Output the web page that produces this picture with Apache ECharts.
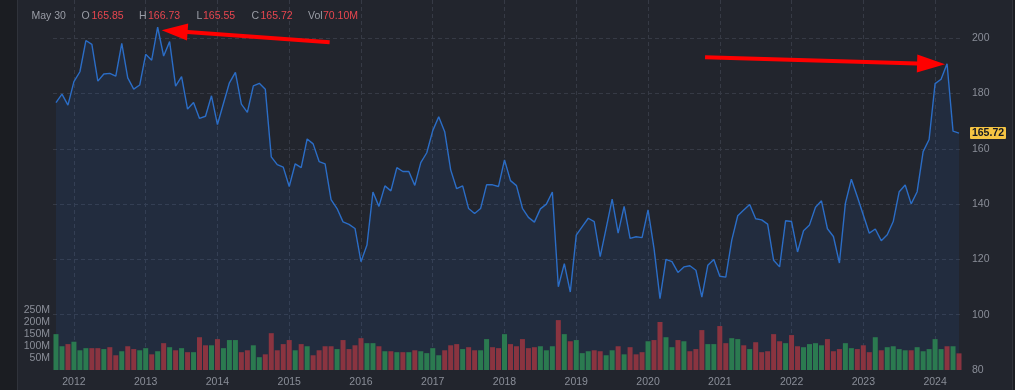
<!DOCTYPE html>
<html><head><meta charset="utf-8">
<script src="https://cdn.jsdelivr.net/npm/echarts@6/dist/echarts.min.js"></script>
<style>
html,body{margin:0;padding:0;background:#22252d;overflow:hidden;}
#wrap{position:relative;width:1015px;height:390px;}
#leftStrip{position:absolute;left:0;top:0;width:17px;height:390px;background:#1b1d22;border-right:1px solid #30333b;}
#rightEdge{position:absolute;left:1012px;top:0;width:3px;height:390px;background:#1b1d22;border-left:1px solid #30333b;}
#c{position:absolute;left:0;top:0;width:1015px;height:390px;}
</style>
</head><body>
<div id="wrap"><div id="leftStrip"></div><div id="rightEdge"></div><div id="c"></div></div>
<script>
// ---- data ----
const START_YEAR = 2011, START_MONTH = 10; // first monthly bar: Oct 2011
const closes = [
176.7,179.8,175.8,184.3,187.9,199.2,197.8,184.5,187.1,187.3,
186.3,198.2,185.7,181.6,183.1,194.2,192.1,204.0,193.6,198.8,
182.7,186.1,174.4,176.8,171.0,171.8,179.2,168.8,176.4,183.9,
187.7,176.2,173.2,182.8,183.7,181.6,157.1,154.3,153.4,146.4,
154.6,153.2,163.6,161.8,155.4,154.6,141.6,138.4,133.6,132.7,
131.2,119.2,125.2,144.4,139.2,146.6,144.8,153.2,151.8,151.8,
146.8,155.0,158.6,166.6,171.6,166.2,152.4,145.6,146.6,138.4,
136.6,138.4,147.0,147.0,146.4,156.0,148.5,146.7,138.5,135.2,
133.5,138.3,140.0,144.4,110.1,118.5,108.2,128.8,131.9,134.9,
133.7,121.0,131.3,141.8,129.5,139.2,127.6,128.2,127.9,137.9,
124.0,105.8,120.0,119.2,115.3,117.3,117.7,116.1,106.4,117.9,
120.0,113.9,113.6,127.0,135.8,137.9,139.9,134.7,134.3,132.8,
119.7,117.3,134.0,133.7,122.7,130.4,132.5,138.9,141.2,131.1,
128.3,118.7,140.3,149.0,142.7,136.1,129.5,131.0,126.8,128.9,
133.7,144.5,146.9,140.1,144.5,159.0,163.4,183.6,185.2,190.8,
166.4,165.72];
const volumesM = [
151,100,109,119,83,92,92,92,88,96,62,79,100,88,83,92,66,79,113,96,83,92,75,75,
138,104,104,130,92,126,126,75,83,104,54,66,155,83,109,126,83,109,100,62,83,100,100,88,
126,88,104,134,113,113,100,79,79,75,75,75,83,79,71,92,62,83,104,109,88,96,83,83,
130,96,92,151,109,100,130,92,96,100,83,100,210,151,121,126,71,79,83,79,62,83,100,66,
96,66,75,121,126,202,138,
96,126,121,79,88,168,109,109,185,113,134,130,104,88,117,75,79,151,121,113,147,100,96,109,
113,104,130,79,88,113,92,88,104,75,138,83,96,100,88,83,83,96,79,88,130,88,100,100,70.1];
const volUp = [
1,1,0,1,1,1,0,0,1,0,0,1,0,0,1,1,0,1,0,1,0,1,0,1,
0,0,1,0,1,1,1,0,0,1,1,0,0,0,0,0,1,0,1,0,0,0,0,1,
0,0,0,0,1,1,0,1,0,1,0,1,0,1,1,1,1,0,0,0,1,0,0,1,
1,0,0,1,0,0,0,0,0,1,1,1,0,1,0,1,1,1,0,0,1,1,0,1,
0,0,0,1,0,0,1,
1,0,1,0,0,0,1,1,0,0,1,1,0,1,0,0,0,0,0,1,0,0,1,1,
1,1,0,0,0,1,1,0,0,0,1,0,1,1,1,1,0,1,1,1,1,1,0,1];
const priceTicks = [80,100,120,140,160,180,200];
const volumeTicksM = [50,100,150,200,250];
const hdrDate = 'May 30';
const hdrOpen = '165.85', hdrHigh = '166.73', hdrLow = '165.55', hdrClose = '165.72', hdrVol = '70.10M';

// categories (months)
const months = [];
for (let i = 0; i < closes.length; i++) {
  const m0 = START_MONTH - 1 + i;
  const y = START_YEAR + Math.floor(m0 / 12), m = (m0 % 12) + 1;
  months.push(y + '-' + (m < 10 ? '0' + m : m));
}
const isJan = (idx, val) => String(val || months[idx]).endsWith('-01');

const FONT = '"Liberation Sans", Arial, sans-serif';
const GRID = '#363a45';
const LABEL = '#8a8e98';
// price scale: 80 sits at the grid bottom (y=370), 200 at y=38.3
const PRICE_MAX = 200 + 38.3 * 120 / (370 - 38.3);

const chart = echarts.init(document.getElementById('c'), null, {renderer: 'canvas'});
const option = {
  animation: false,
  grid: [
    {left: 53, right: 53, top: 0, bottom: 20},
    {left: 53, right: 53, bottom: 20, height: 59.4}
  ],
  xAxis: [
    {type: 'category', gridIndex: 0, data: months, boundaryGap: true,
     axisLine: {show: false}, axisTick: {show: false},
     axisLabel: {interval: isJan, formatter: v => v.slice(0, 4), color: LABEL, fontSize: 10.5, fontFamily: FONT, margin: 7},
     splitLine: {show: true, interval: isJan, alignWithLabel: true, lineStyle: {color: GRID, type: [4, 3], width: 1}}},
    {type: 'category', gridIndex: 1, data: months, boundaryGap: true, show: false}
  ],
  yAxis: [
    {type: 'value', gridIndex: 0, position: 'right', min: 80, max: PRICE_MAX, interval: 20,
     axisLine: {show: false}, axisTick: {show: false},
     axisLabel: {color: LABEL, fontSize: 10.5, fontFamily: FONT, margin: 10, showMaxLabel: false,
       formatter: v => priceTicks.indexOf(v) >= 0 ? String(v) : ''},
     splitLine: {show: true, showMaxLine: false, showMinLine: false, lineStyle: {color: GRID, type: [4, 3], width: 1}}},
    {type: 'value', gridIndex: 1, position: 'left', min: 0, max: 250, interval: 50,
     axisLine: {show: false}, axisTick: {show: false}, splitLine: {show: false},
     axisLabel: {color: LABEL, fontSize: 10.5, fontFamily: FONT, margin: 3, showMinLabel: false,
       formatter: v => volumeTicksM.indexOf(v) >= 0 ? v + 'M' : ''}}
  ],
  series: [
    {type: 'line', xAxisIndex: 0, yAxisIndex: 0, data: closes, showSymbol: false, z: 2,
     lineStyle: {color: '#2b6dc6', width: 1.4},
     areaStyle: {color: 'rgba(44,117,225,0.14)'}},
    {type: 'bar', xAxisIndex: 1, yAxisIndex: 1, barWidth: 5, z: 3,
     data: volumesM.map((v, i) => ({value: v, itemStyle: {color: volUp[i] ? '#2b7a50' : '#8a3440'}}))}
  ]
};
chart.setOption(option);

function arrow(tail, tip, headLen, headHalf, shaftHalf) {
  const dx = tip[0] - tail[0], dy = tip[1] - tail[1];
  const L = Math.hypot(dx, dy), ux = dx / L, uy = dy / L, nx = -uy, ny = ux;
  const bx = tip[0] - ux * headLen, by = tip[1] - uy * headLen;
  return [
    [tail[0] + nx * shaftHalf, tail[1] + ny * shaftHalf],
    [bx + nx * shaftHalf, by + ny * shaftHalf],
    [bx + nx * headHalf, by + ny * headHalf],
    tip,
    [bx - nx * headHalf, by - ny * headHalf],
    [bx - nx * shaftHalf, by - ny * shaftHalf],
    [tail[0] - nx * shaftHalf, tail[1] - ny * shaftHalf]
  ];
}

// anchor annotations to the data
const iPeak1 = closes.indexOf(Math.max(...closes.slice(0, 40)));
const iPeak2 = closes.length - 3;
const p1 = chart.convertToPixel({xAxisIndex: 0, yAxisIndex: 0}, [iPeak1, closes[iPeak1]]);
const p2 = chart.convertToPixel({xAxisIndex: 0, yAxisIndex: 0}, [iPeak2, closes[iPeak2]]);
const tip1 = [p1[0] + 4, p1[1] + 3], tail1 = [tip1[0] + 168, tip1[1] + 12];
const tip2 = [p2[0] - 2, p2[1] + 0.5], tail2 = [tip2[0] - 240, tip2[1] - 7];
const last = closes[closes.length - 1];
const pl = chart.convertToPixel({yAxisIndex: 0, xAxisIndex: 0}, [closes.length - 1, last]);

const hdrStyle = (t, x, c) => ({type: 'text', x: x, y: 16, style: {text: t, fill: c, font: '10.5px ' + FONT, textVerticalAlign: 'middle', verticalAlign: 'middle'}});
const GREY = '#9a9da6', RED = '#e8464f';
chart.setOption({
  graphic: [
    hdrStyle(hdrDate, 31.5, GREY),
    hdrStyle('O', 81.5, GREY), hdrStyle(hdrOpen, 91.5, RED),
    hdrStyle('H', 139, GREY), hdrStyle(hdrHigh, 148, RED),
    hdrStyle('L', 196.5, GREY), hdrStyle(hdrLow, 203, RED),
    hdrStyle('C', 251.5, GREY), hdrStyle(hdrClose, 260.5, RED),
    hdrStyle('Vol', 308, GREY), hdrStyle(hdrVol, 323, RED),
    {type: 'polygon', z: 100, shape: {points: arrow(tail1, tip1, 26, 8.5, 2)}, style: {fill: '#ff0000'}},
    {type: 'polygon', z: 100, shape: {points: arrow(tail2, tip2, 28, 9, 2)}, style: {fill: '#ff0000'}},
    {type: 'rect', z: 100, shape: {x: 970, y: pl[1] - 6, width: 36, height: 12, r: 1}, style: {fill: '#f5c443'}},
    {type: 'text', z: 101, x: 988, y: pl[1] + 0.5, style: {text: last.toFixed(2), fill: '#131722', font: 'bold 10.5px ' + FONT, align: 'center', verticalAlign: 'middle'}}
  ]
});
</script>
</body></html>
